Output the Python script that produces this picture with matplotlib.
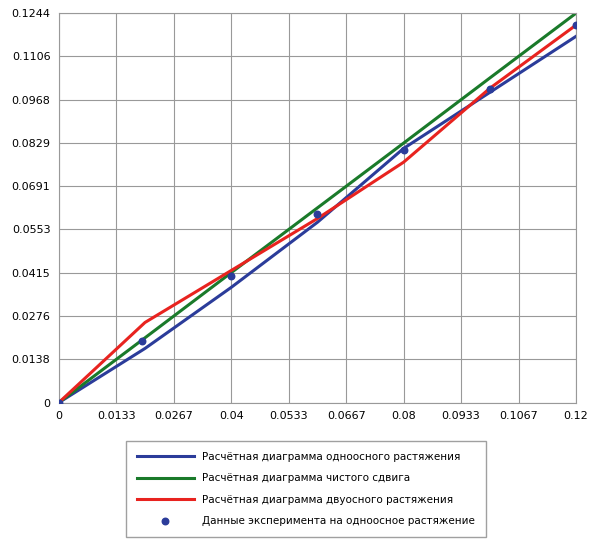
import numpy as np
import matplotlib.pyplot as plt

x_calc = [0, 0.02, 0.04, 0.06, 0.08, 0.10, 0.12]
y_uniax = [0, 0.0173, 0.0368, 0.0576, 0.0812, 0.0991, 0.1170]
y_shear = [0, 0.0207, 0.0415, 0.0622, 0.0829, 0.1037, 0.1244]
y_biax = [0, 0.0256, 0.0422, 0.0588, 0.0768, 0.1004, 0.1206]
x_exp = [0, 0.0193, 0.04, 0.06, 0.08, 0.10, 0.12]
y_exp = [0, 0.0198, 0.0403, 0.0601, 0.0806, 0.1001, 0.1206]

xticks = [0, 0.0133, 0.0267, 0.04, 0.0533, 0.0667, 0.08, 0.0933, 0.1067, 0.12]
xlabels = ["0", "0.0133", "0.0267", "0.04", "0.0533", "0.0667", "0.08", "0.0933", "0.1067", "0.12"]
yticks = [0, 0.0138, 0.0276, 0.0415, 0.0553, 0.0691, 0.0829, 0.0968, 0.1106, 0.1244]
ylabels = ["0", "0.0138", "0.0276", "0.0415", "0.0553", "0.0691", "0.0829", "0.0968", "0.1106", "0.1244"]

fig = plt.figure(figsize=(6, 5.5), dpi=100)
ax = fig.add_axes([0.098, 0.268, 0.862, 0.708])
ax.plot(x_calc, y_uniax, color="#2b3c9a", lw=2.2, label="Расчётная диаграмма одноосного растяжения")
ax.plot(x_calc, y_shear, color="#1a7a2a", lw=2.2, label="Расчётная диаграмма чистого сдвига")
ax.plot(x_calc, y_biax, color="#e8231f", lw=2.2, label="Расчётная диаграмма двуосного растяжения")
ax.scatter(x_exp, y_exp, color="#2b3c9a", s=22, zorder=5, label="Данные эксперимента на одноосное растяжение")
ax.set_xlim(0, 0.12)
ax.set_ylim(0, 0.1244)
ax.set_xticks(xticks, xlabels, fontsize=8)
ax.set_yticks(yticks, ylabels, fontsize=8)
ax.tick_params(length=0, pad=6)
ax.grid(color="#999999", lw=0.8)
for s in ax.spines.values():
    s.set_color("#999999")
leg = fig.legend(loc="lower center", bbox_to_anchor=(0.51, 0.015), fontsize=7.5,
                 frameon=True, fancybox=False, edgecolor="#888888", handlelength=5.5,
                 borderpad=1.0, labelspacing=1.1)
plt.savefig("out.png")
